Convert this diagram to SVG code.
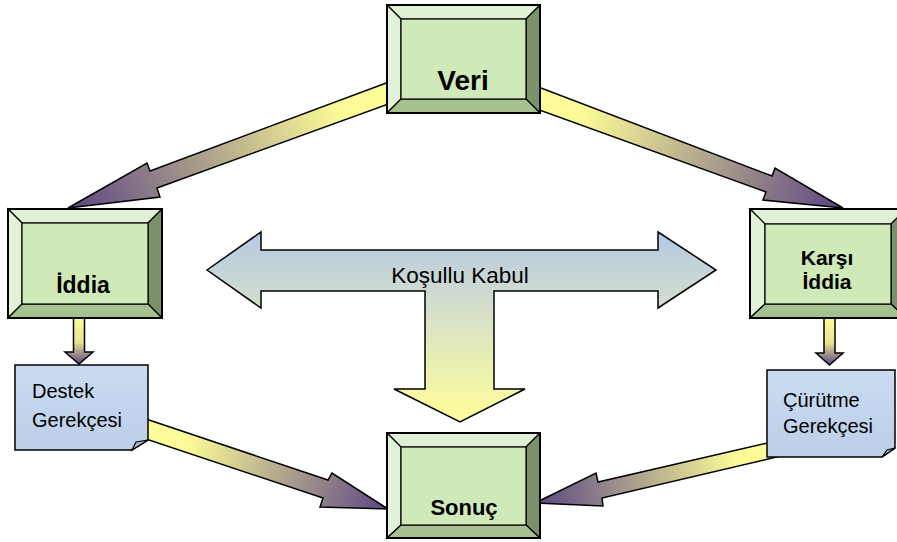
<svg xmlns="http://www.w3.org/2000/svg" width="897" height="542" viewBox="0 0 897 542">
<defs>
<style>
.arr{stroke:#000;stroke-width:1.5;stroke-linejoin:miter}
.bt{fill:#e0f0d5;stroke:#000;stroke-width:1.2}
.bl{fill:#e2f2d8;stroke:#000;stroke-width:1.2}
.br{fill:#7b9169;stroke:#000;stroke-width:1.2}
.bb{fill:#a6c190;stroke:#000;stroke-width:1.2}
.face{fill:#cfe9b9;stroke:#000;stroke-width:1.2}
.outer{fill:none;stroke:#000;stroke-width:2}
.lbl{font-family:"Liberation Sans",Arial,sans-serif;font-weight:bold;fill:#000;text-anchor:middle}
.note{fill:url(#gNote);stroke:#000;stroke-width:1.5;stroke-linejoin:miter}
.fold{fill:#a9b8cf;stroke:#000;stroke-width:1.2}
.ntx{font-family:"Liberation Sans",Arial,sans-serif;font-size:20px;fill:#000}
</style>
<linearGradient id="gNote" x1="0" y1="0" x2="0" y2="1">
<stop offset="0" stop-color="#cadbf1"/>
<stop offset="1" stop-color="#bccfe8"/>
</linearGradient>
<linearGradient id="gT" gradientUnits="userSpaceOnUse" x1="0" y1="232" x2="0" y2="422">
<stop offset="0" stop-color="#b5c9e3"/>
<stop offset="0.35" stop-color="#d1dccf"/>
<stop offset="1" stop-color="#ffff99"/>
</linearGradient>
<linearGradient id="gA1" gradientUnits="userSpaceOnUse" x1="405" y1="87" x2="68" y2="208">
<stop offset="0" stop-color="#ffff99"/>
<stop offset="0.2" stop-color="#fbfa97"/>
<stop offset="1" stop-color="#5a4682"/>
</linearGradient>
<linearGradient id="gA2" gradientUnits="userSpaceOnUse" x1="520" y1="91" x2="843" y2="208">
<stop offset="0" stop-color="#ffff99"/>
<stop offset="0.2" stop-color="#fbfa97"/>
<stop offset="1" stop-color="#5a4682"/>
</linearGradient>
<linearGradient id="gA3" gradientUnits="userSpaceOnUse" x1="140" y1="427" x2="388" y2="509">
<stop offset="0" stop-color="#ffff99"/>
<stop offset="0.2" stop-color="#fbfa97"/>
<stop offset="1" stop-color="#5a4682"/>
</linearGradient>
<linearGradient id="gA4" gradientUnits="userSpaceOnUse" x1="785" y1="447" x2="535" y2="503">
<stop offset="0" stop-color="#ffff99"/>
<stop offset="0.2" stop-color="#fbfa97"/>
<stop offset="1" stop-color="#5a4682"/>
</linearGradient>
<linearGradient id="gD" x1="0" y1="0" x2="0" y2="1">
<stop offset="0" stop-color="#ffff99"/>
<stop offset="0.55" stop-color="#e8e392"/>
<stop offset="1" stop-color="#5a4682"/>
</linearGradient>
</defs>

<g id="connectors">
<polygon class="arr" fill="url(#gA1)" points="405,76 150,171 147,163 68,208 160,197 157,188 405,98"/>
<polygon class="arr" fill="url(#gA2)" points="520,80 772,176 775,168 843,208 763,200 766,192 520,103"/>
<polygon class="arr" fill="url(#gA3)" points="140,417 328,480 332,473 388,509 320,507 323,498 140,437"/>
<polygon class="arr" fill="url(#gA4)" points="785,439 598,482 596,473 535,503 603,506 602,498 785,455"/>
<polygon class="arr" fill="url(#gD)" points="73.5,316 84.5,316 84.5,352 93,352 79,364 65,352 73.5,352"/>
<polygon class="arr" fill="url(#gD)" points="824,316 835,316 835,353 843,353 829.5,365 816,353 824,353"/>
</g>

<g id="kosullu-kabul">
<polygon class="arr" fill="url(#gT)" points="207,270 261,232 261,250 658,250 658,232 716,270 658,308 658,291 494,291 494,389 525,389 460,422 394,389 425,389 425,291 261,291 261,308"/>
<text x="460" y="283" font-family="Liberation Sans, Arial, sans-serif" font-size="22.5" text-anchor="middle" fill="#000">Koşullu Kabul</text>
</g>

<g id="veri">
<polygon class="bt" points="387,5 540,5 526,19 401,19"/>
<polygon class="bl" points="387,5 401,19 401,99 387,113"/>
<polygon class="br" points="540,5 540,113 526,99 526,19"/>
<polygon class="bb" points="387,113 401,99 526,99 540,113"/>
<rect class="face" x="401" y="19" width="125" height="80"/>
<rect class="outer" x="387" y="5" width="153" height="108"/>
<text class="lbl" x="463" y="90" font-size="28">Veri</text>
</g>

<g id="iddia">
<polygon class="bt" points="8,209 162,209 148,223 22,223"/>
<polygon class="bl" points="8,209 22,223 22,304 8,318"/>
<polygon class="br" points="162,209 162,318 148,304 148,223"/>
<polygon class="bb" points="8,318 22,304 148,304 162,318"/>
<rect class="face" x="22" y="223" width="126" height="81"/>
<rect class="outer" x="8" y="209" width="154" height="109"/>
<text class="lbl" x="83" y="293" font-size="23">İddia</text>
</g>

<g id="karsi-iddia">
<polygon class="bt" points="750,209 906,209 891,224 765,224"/>
<polygon class="bl" points="750,209 765,224 765,304 750,318"/>
<polygon class="br" points="906,209 906,318 891,304 891,224"/>
<polygon class="bb" points="750,318 765,304 891,304 906,318"/>
<rect class="face" x="765" y="224" width="126" height="80"/>
<rect class="outer" x="750" y="209" width="156" height="109"/>
<text class="lbl" x="827" y="265" font-size="21">Karşı</text>
<text class="lbl" x="827" y="289" font-size="21">İddia</text>
</g>

<g id="destek-gerekcesi">
<path class="note" d="M15,365 H148 V440 L132,450 H15 Z"/>
<polygon class="fold" points="132,450 136,442 148,440"/>
<text class="ntx" x="32" y="398">Destek</text>
<text class="ntx" x="32" y="427">Gerekçesi</text>
</g>

<g id="curutme-gerekcesi">
<path class="note" d="M767,370 H895 V448 L882,457 H767 Z"/>
<polygon class="fold" points="882,457 887,450 895,448"/>
<text class="ntx" x="783" y="407">Çürütme</text>
<text class="ntx" x="783" y="433">Gerekçesi</text>
</g>

<g id="sonuc">
<polygon class="bt" points="387,433 540,433 526,447 401,447"/>
<polygon class="bl" points="387,433 401,447 401,525 387,538"/>
<polygon class="br" points="540,433 540,538 526,525 526,447"/>
<polygon class="bb" points="387,538 401,525 526,525 540,538"/>
<rect class="face" x="401" y="447" width="125" height="78"/>
<rect class="outer" x="387" y="433" width="153" height="105"/>
<text class="lbl" x="464" y="515" font-size="22">Sonuç</text>
</g>
</svg>
